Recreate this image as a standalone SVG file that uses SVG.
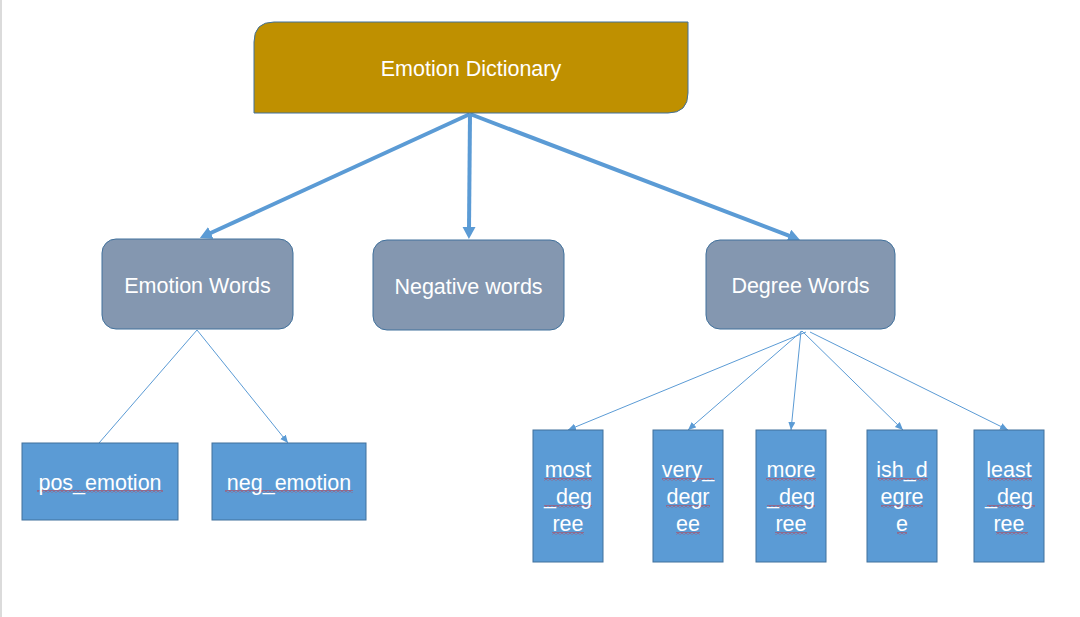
<svg xmlns="http://www.w3.org/2000/svg" width="1080" height="617" viewBox="0 0 1080 617">
<style>
.lbl{font-family:"Liberation Sans",Arial,sans-serif;font-size:21.5px;fill:#ffffff;text-anchor:middle}
.root{fill:#BF9000;stroke:#41719C;stroke-width:1}
.mid{fill:#8497B0;stroke:#41719C;stroke-width:1}
.leaf{fill:#5B9BD5;stroke:#41719C;stroke-width:1}
.thick{stroke:#5B9BD5;stroke-width:4;fill:none}
.thin{stroke:#5B9BD5;stroke-width:1;fill:none}
.sq{fill:url(#squig)}
</style>
<defs>
<marker id="bigArrow" markerUnits="userSpaceOnUse" markerWidth="14" markerHeight="14" refX="2" refY="6.5" orient="auto">
<path d="M0,0 L12,6.5 L0,13 z" fill="#5B9BD5"/>
</marker>
<marker id="smallArrow" markerUnits="userSpaceOnUse" markerWidth="10" markerHeight="10" refX="8" refY="3.5" orient="auto">
<path d="M0,0 L8,3.5 L0,7 z" fill="#5B9BD5"/>
</marker>
<pattern id="squig" patternUnits="userSpaceOnUse" x="0" y="0" width="4" height="3">
<path d="M0,0.5 L2,2.5 L4,0.5" stroke="#E02020" stroke-width="0.8" fill="none"/>
</pattern>
</defs>
<rect x="0" y="0" width="1080" height="617" fill="#ffffff"/>
<line x1="1" y1="0" x2="1" y2="617" stroke="#CFCFCF" stroke-width="1.5"/>

<g id="connectors">
<line class="thick" x1="470" y1="114" x2="209" y2="233.8" marker-end="url(#bigArrow)"/>
<line class="thick" x1="470" y1="114" x2="469" y2="229" marker-end="url(#bigArrow)"/>
<line class="thick" x1="470" y1="114" x2="790.7" y2="236.4" marker-end="url(#bigArrow)"/>
<line class="thin" x1="197" y1="330" x2="99" y2="443"/>
<line class="thin" x1="197" y1="330" x2="288" y2="443" marker-end="url(#smallArrow)"/>
<line class="thin" x1="806" y1="332" x2="568" y2="430" marker-end="url(#smallArrow)"/>
<line class="thin" x1="802" y1="331" x2="688" y2="430" marker-end="url(#smallArrow)"/>
<line class="thin" x1="801" y1="331" x2="791" y2="430" marker-end="url(#smallArrow)"/>
<line class="thin" x1="802" y1="331" x2="903" y2="430" marker-end="url(#smallArrow)"/>
<line class="thin" x1="810" y1="332" x2="1008" y2="430" marker-end="url(#smallArrow)"/>
</g>

<g id="node-emotion-dictionary">
<path class="root" d="M274,22 H688 V93 Q688,113 668,113 H254 V42 Q254,22 274,22 Z"/>
<text class="lbl" x="471" y="76">Emotion Dictionary</text>
</g>

<g id="node-emotion-words">
<rect class="mid" x="102" y="239" width="191" height="90" rx="14" ry="14"/>
<text class="lbl" x="197.5" y="293">Emotion Words</text>
</g>

<g id="node-negative-words">
<rect class="mid" x="373" y="240" width="191" height="90" rx="14" ry="14"/>
<text class="lbl" x="468.5" y="294">Negative words</text>
</g>

<g id="node-degree-words">
<rect class="mid" x="706" y="240" width="189" height="89" rx="14" ry="14"/>
<text class="lbl" x="800.5" y="293">Degree Words</text>
</g>

<g id="node-pos-emotion">
<rect class="leaf" x="22" y="443" width="156" height="77"/>
<rect class="sq" x="37" y="490" width="126" height="3"/>
<text class="lbl" x="100" y="490">pos_emotion</text>
</g>

<g id="node-neg-emotion">
<rect class="leaf" x="212" y="443" width="154" height="77"/>
<rect class="sq" x="225" y="490" width="128" height="3"/>
<text class="lbl" x="289" y="490">neg_emotion</text>
</g>

<g id="node-most-degree">
<rect class="leaf" x="533" y="430" width="70" height="132"/>
<rect class="sq" x="544" y="478" width="48" height="3"/>
<rect class="sq" x="544" y="505" width="48" height="3"/>
<rect class="sq" x="552" y="532" width="32" height="3"/>
<text class="lbl" x="568" y="477">most</text>
<text class="lbl" x="568" y="504">_deg</text>
<text class="lbl" x="568" y="531">ree</text>
</g>

<g id="node-very-degree">
<rect class="leaf" x="653" y="430" width="70" height="132"/>
<rect class="sq" x="662" y="478" width="52" height="3"/>
<rect class="sq" x="666" y="505" width="44" height="3"/>
<rect class="sq" x="676" y="532" width="24" height="3"/>
<text class="lbl" x="688" y="477">very_</text>
<text class="lbl" x="688" y="504">degr</text>
<text class="lbl" x="688" y="531">ee</text>
</g>

<g id="node-more-degree">
<rect class="leaf" x="756" y="430" width="70" height="132"/>
<rect class="sq" x="766" y="478" width="50" height="3"/>
<rect class="sq" x="767" y="505" width="48" height="3"/>
<rect class="sq" x="775" y="532" width="32" height="3"/>
<text class="lbl" x="791" y="477">more</text>
<text class="lbl" x="791" y="504">_deg</text>
<text class="lbl" x="791" y="531">ree</text>
</g>

<g id="node-ish-degree">
<rect class="leaf" x="867" y="430" width="70" height="132"/>
<rect class="sq" x="878" y="478" width="50" height="3"/>
<rect class="sq" x="881" y="505" width="42" height="3"/>
<rect class="sq" x="897" y="532" width="10" height="3"/>
<text class="lbl" x="902" y="477">ish_d</text>
<text class="lbl" x="902" y="504">egre</text>
<text class="lbl" x="902" y="531">e</text>
</g>

<g id="node-least-degree">
<rect class="leaf" x="974" y="430" width="70" height="132"/>
<rect class="sq" x="988" y="478" width="44" height="3"/>
<rect class="sq" x="987" y="505" width="48" height="3"/>
<rect class="sq" x="996" y="532" width="32" height="3"/>
<text class="lbl" x="1009" y="477">least</text>
<text class="lbl" x="1009" y="504">_deg</text>
<text class="lbl" x="1009" y="531">ree</text>
</g>
</svg>
